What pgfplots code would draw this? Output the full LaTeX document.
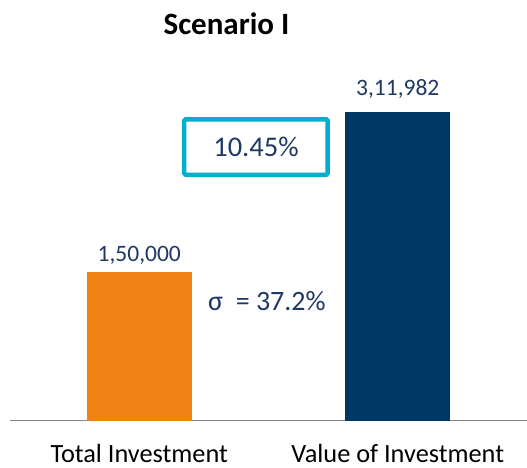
\documentclass[border=0pt]{standalone}
\usepackage{pgfplots}
\pgfplotsset{compat=1.18}
\usepackage{fontspec}
\setmainfont{Carlito}
\definecolor{barorange}{HTML}{F08214}
\definecolor{barnavy}{HTML}{003865}
\definecolor{txtnavy}{HTML}{1F3864}
\definecolor{boxcyan}{HTML}{00AECE}
\definecolor{axgray}{HTML}{868686}
\begin{document}
\begin{tikzpicture}
\useasboundingbox (-10pt,-46.3pt) rectangle (517pt,420.7pt);
\begin{axis}[
 at={(0,0)}, anchor=south west,
 scale only axis, width=517pt, height=346.3pt,
 xmin=-0.5, xmax=1.5, ymin=0, ymax=350000,
 axis x line*=bottom, axis y line=none,
 x axis line style={axgray, line width=1.3pt, -},
 xtick={0,1}, xticklabels={Total Investment, Value of Investment},
 major tick length=0pt,
 xticklabel style={anchor=base, yshift=-42pt, inner sep=0pt, font=\fontsize{26.3}{30}\selectfont, text=black},
 ytick=\empty,
 ybar, bar width=105pt, bar shift=0pt,
 clip=false,
 nodes near coords, point meta=explicit symbolic,
 nodes near coords style={font=\fontsize{23.5}{28}\selectfont, text=txtnavy, anchor=base, inner sep=0pt},
]
\addplot[fill=barorange, draw=none, every node near coord/.append style={yshift=11pt}] coordinates {(0,150000) [1,50,000]};
\addplot[fill=barnavy, draw=none, every node near coord/.append style={yshift=16.7pt}] coordinates {(1,311982) [3,11,982]};
\node[draw=boxcyan, line width=4.5pt, rounded corners=1.5pt, minimum width=143.5pt, minimum height=55.5pt, inner sep=0pt, text=txtnavy, font=\fontsize{28.5}{34}\selectfont] at (axis cs:0.4516,276600) {10.45\%};
\node[anchor=base west, inner sep=0pt, text=txtnavy, font=\fontsize{28}{34}\selectfont] at (axis cs:0.266,111870) {σ\ \ = 37.2\%};
\node[anchor=base, inner sep=0pt, font=\bfseries\fontsize{31}{36}\selectfont] at (axis cs:0.3375,390800) {Scenario I};
\end{axis}
\end{tikzpicture}
\end{document}
